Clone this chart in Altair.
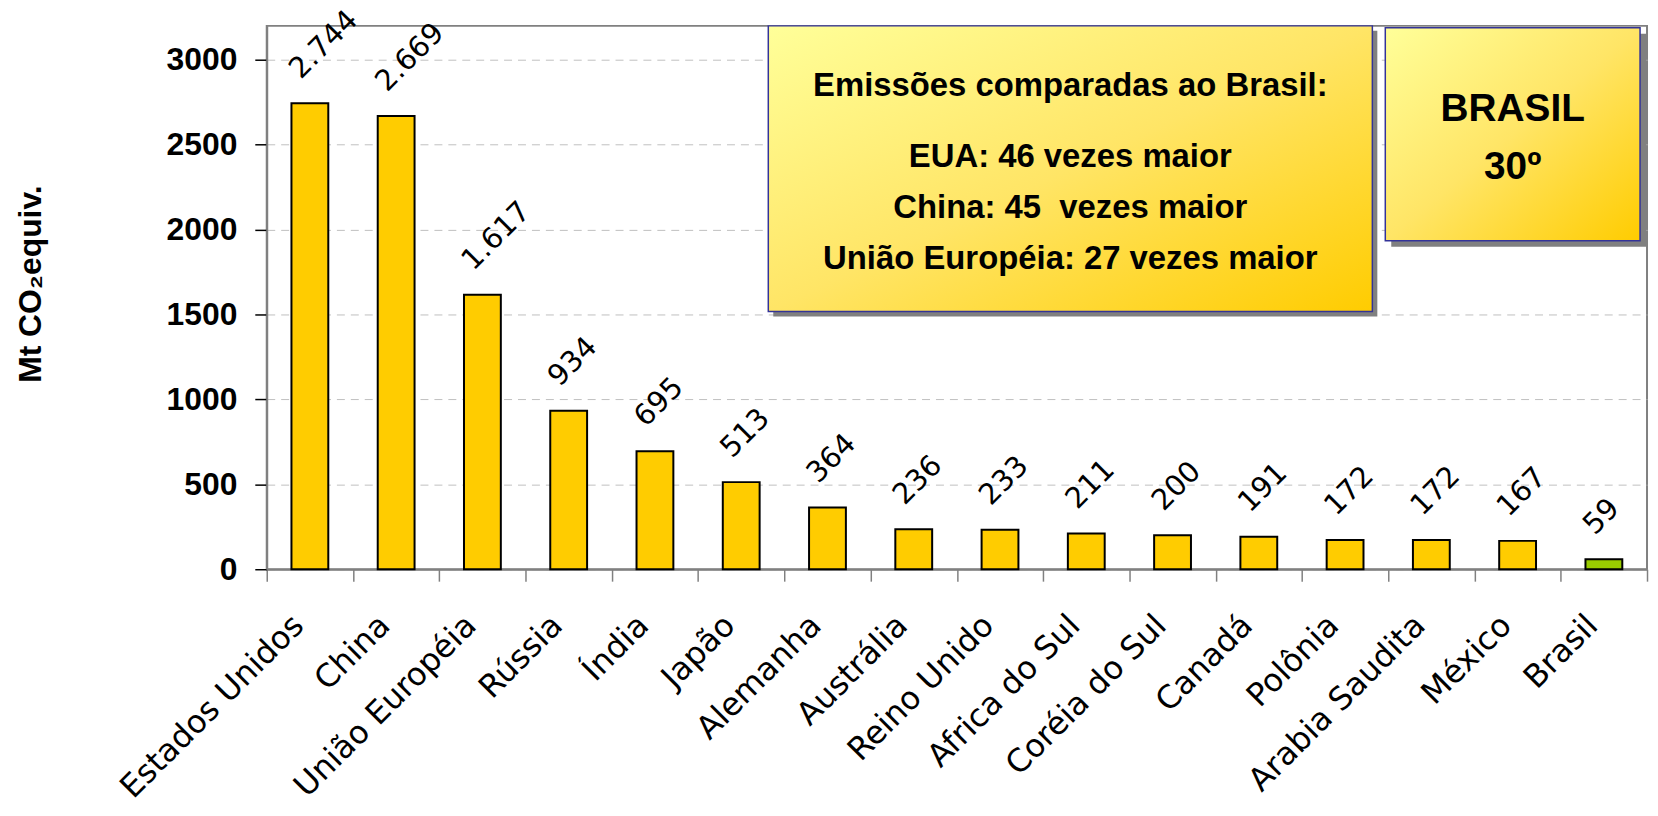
import altair as alt
import pandas as pd

# ---- data ----
paises = ["Estados Unidos", "China", "União Européia", "Rússia", "Índia", "Japão",
          "Alemanha", "Austrália", "Reino Unido", "Africa do Sul", "Coréia do Sul",
          "Canadá", "Polônia", "Arabia Saudita", "México", "Brasil"]
emissoes = [2744, 2669, 1617, 934, 695, 513, 364, 236, 233, 211, 200, 191, 172, 172, 167, 59]
y_ticks = [0, 500, 1000, 1500, 2000, 2500, 3000]

caixa1_titulo = "Emissões comparadas ao Brasil:"
caixa1_linhas = ["EUA: 46 vezes maior", "China: 45\u00a0 vezes maior", "União Européia: 27 vezes maior"]
caixa2_linhas = ["BRASIL", "30º"]

df = pd.DataFrame({
    "pais": paises,
    "valor": emissoes,
    "rotulo": [f"{v:,}".replace(",", ".") for v in emissoes],
})

BOLDF = "Liberation Sans"
W, H = 1387, 546

base = alt.Chart(df)

x_enc = alt.X("pais:N", sort=paises,
              scale=alt.Scale(paddingInner=0, paddingOuter=0),
              axis=alt.Axis(title=None, labelAngle=315, labelAlign="right",
                            labelBaseline="middle", labelFont="DejaVu Sans",
                            labelFontSize=32, labelPadding=39, labelOffset=-12,
                            labelColor="black", labelLimit=0, labelOverlap=False,
                            tickBand="extent", tickSize=12, tickColor="#808080",
                            tickWidth=1.5, domainColor="#808080", domainWidth=2))
y_enc = alt.Y("valor:Q", scale=alt.Scale(domain=[0, 3200], nice=False),
              axis=alt.Axis(values=y_ticks, format="d", title="Mt CO₂equiv.",
                            titleFont="Liberation Sans", titleFontSize=32,
                            titleFontWeight="bold", titleColor="black",
                            titleAngle=270, titleAlign="center", titleBaseline="middle",
                            titleX=-237, titleY=259,
                            labelFont=BOLDF, labelFontSize=32, labelFontWeight="bold",
                            labelColor="black", labelPadding=18,
                            tickSize=12, tickColor="black", tickWidth=1.5,
                            domainColor="#808080", domainWidth=2,
                            grid=True, gridColor="#C0C0C0", gridDash=[8, 6], gridWidth=1))

bars = base.mark_bar(width=alt.RelativeBandSize(0.427), stroke="black", strokeWidth=2).encode(
    x=x_enc, y=y_enc,
    fill=alt.condition(alt.datum.pais == "Brasil", alt.value("#99CC00"), alt.value("#FFCC00")),
)

labels = base.mark_text(angle=315, align="left", baseline="middle", dx=10, dy=-32,
                        font="DejaVu Sans", fontSize=29, color="black").encode(
    x=alt.X("pais:N", sort=paises), y="valor:Q", text="rotulo:N")

grad = alt.LinearGradient(gradient="linear",
                          stops=[alt.GradientStop(color="#FFFF99", offset=0),
                                 alt.GradientStop(color="#FFE566", offset=0.5),
                                 alt.GradientStop(color="#FFCC00", offset=1)],
                          x1=0, y1=0, x2=1, y2=1)

one = pd.DataFrame({"k": [0]})


def caixa(x1, x2, y1, y2, sh):
    shadow = alt.Chart(one).mark_rect(fill="#808080").encode(
        x=alt.value(x1 + sh), x2=alt.value(x2 + sh), y=alt.value(y1 + sh), y2=alt.value(y2 + sh))
    box = alt.Chart(one).mark_rect(fill=grad, stroke="#333399", strokeWidth=1.5).encode(
        x=alt.value(x1), x2=alt.value(x2), y=alt.value(y1), y2=alt.value(y2))
    return [shadow, box]


def linha(txt, xc, yb, size):
    return alt.Chart(pd.DataFrame({"t": [txt]})).mark_text(
        font=BOLDF, fontSize=size, fontWeight="bold", color="black",
        align="center", baseline="alphabetic").encode(
        x=alt.value(xc), y=alt.value(yb), text="t:N")


layers = [bars, labels]
layers += caixa(504, 1111, 0, 287, 5)
layers += caixa(1124, 1380, 2, 216, 6)
c1 = (504 + 1111) / 2
layers.append(linha(caixa1_titulo, c1, 70, 33))
for i, t in enumerate(caixa1_linhas):
    layers.append(linha(t, c1, 142 + 51 * i, 33))
c2 = (1124 + 1380) / 2
layers.append(linha(caixa2_linhas[0], c2, 96, 39))
layers.append(linha(caixa2_linhas[1], c2, 154, 39))

chart = alt.layer(*layers).properties(
    width=W, height=H, autosize="none",
    padding={"left": 260, "top": 16, "right": 3, "bottom": 243},
    background="white",
).configure_view(stroke="#808080", strokeWidth=2)

chart.save("out.html", embed_options={"renderer": "svg", "actions": False})
